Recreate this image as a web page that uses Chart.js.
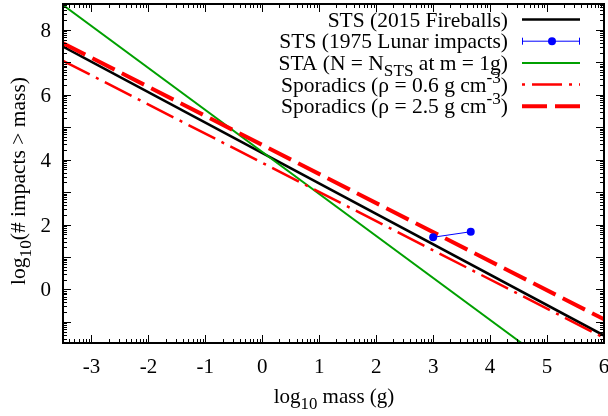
<!DOCTYPE html>
<html>
<head>
<meta charset="utf-8">
<script src="https://cdn.jsdelivr.net/npm/chart.js@4.4.0/dist/chart.umd.min.js"></script>
<style>
  html, body { margin: 0; padding: 0; background: #fff; }
  #wrap { width: 608px; height: 416px; }
</style>
</head>
<body>
<div id="wrap"><canvas id="chart" width="608" height="416"></canvas></div>
<script>
// values: [log10 mass (g), log10(# impacts > mass)]
const stsFireballs = [[-3.5, 7.49], [6, -1.42]];
const stsLunar = [[3.0, 1.61], [3.66, 1.78]];
const staLine = [[-3.5, 8.77], [4.55, -1.65]];
const sporadicsLow = [[-3.5, 7.05], [6, -1.49]];
const sporadicsHigh = [[-3.5, 7.59], [6, -0.92]];

// axes
const xRange = [-3.5, 6];
const yRange = [-1.65, 8.8];
const xTickLabels = [-3, -2, -1, 0, 1, 2, 3, 4, 5, 6];
const yTickLabels = [0, 2, 4, 6, 8];

const FONT = '"Liberation Serif", "Times New Roman", serif';
const FS = 21;
const LEGEND_FS = 21.5;

const toXY = arr => arr.map(p => ({ x: p[0], y: p[1] }));

// text with sub/superscripts: segs = [[text, 'sub'|'sup'|undefined], ...]
function richWidth(ctx, segs, size) {
  let w = 0;
  segs.forEach(s => {
    ctx.font = (s[1] ? size * 0.8 : size) + 'px ' + FONT;
    w += ctx.measureText(s[0]).width;
  });
  return w;
}
function drawRich(ctx, segs, x, y, align, size) {
  const w = richWidth(ctx, segs, size);
  let cx = align === 'right' ? x - w : align === 'center' ? x - w / 2 : x;
  ctx.textAlign = 'left';
  ctx.textBaseline = 'alphabetic';
  segs.forEach(s => {
    let dy = 0;
    if (s[1] === 'sub') dy = size * 0.3;
    if (s[1] === 'sup') dy = -size * 0.42;
    ctx.font = (s[1] ? size * 0.8 : size) + 'px ' + FONT;
    ctx.fillText(s[0], cx, y + dy);
    cx += ctx.measureText(s[0]).width;
  });
}

const legendRows = [
  { segs: [['STS (2015 Fireballs)']], color: '#000000', width: 2.5, dash: [] },
  { segs: [['STS (1975 Lunar impacts)']], color: '#0000ff', width: 1, dash: [], marker: true },
  { segs: [['STA (N = N'], ['STS', 'sub'], [' at m = 1g)']], color: '#00a000', width: 2, dash: [] },
  { segs: [['Sporadics (\u03c1 = 0.6 g cm'], ['-3', 'sup'], [')']], color: '#ff0000', width: 2.5, dash: [3, 7, 30, 7] },
  { segs: [['Sporadics (\u03c1 = 2.5 g cm'], ['-3', 'sup'], [')']], color: '#ff0000', width: 4, dash: [25, 8] }
];

const framePlugin = {
  id: 'frame',
  afterDraw(chart) {
    const ctx = chart.ctx;
    const a = chart.chartArea;
    const xs = chart.scales.x, ys = chart.scales.y;
    ctx.save();
    ctx.strokeStyle = '#000';
    ctx.fillStyle = '#000';

    // tick marks, major at integers, minor at log spacing (mirrored on all sides)
    ctx.lineWidth = 1;
    ctx.beginPath();
    for (let n = Math.floor(xRange[0]); n <= xRange[1]; n++) {
      for (let k = 1; k <= 9; k++) {
        const v = n + Math.log10(k);
        if (v < xRange[0] || v > xRange[1]) continue;
        const len = k === 1 ? 8 : 4;
        const px = Math.round(xs.getPixelForValue(v)) + 0.5;
        ctx.moveTo(px, a.bottom); ctx.lineTo(px, a.bottom - len);
        ctx.moveTo(px, a.top); ctx.lineTo(px, a.top + len);
      }
    }
    for (let n = Math.floor(yRange[0]); n <= yRange[1]; n++) {
      for (let k = 1; k <= 9; k++) {
        const v = n + Math.log10(k);
        if (v < yRange[0] || v > yRange[1]) continue;
        const len = k === 1 ? 8 : 4;
        const py = Math.round(ys.getPixelForValue(v)) + 0.5;
        ctx.moveTo(a.left, py); ctx.lineTo(a.left + len, py);
        ctx.moveTo(a.right, py); ctx.lineTo(a.right - len, py);
      }
    }
    ctx.stroke();

    // border
    ctx.lineWidth = 2;
    ctx.strokeRect(a.left, a.top, a.right - a.left, a.bottom - a.top);

    // tick labels
    ctx.font = FS + 'px ' + FONT;
    ctx.textBaseline = 'alphabetic';
    ctx.textAlign = 'center';
    xTickLabels.forEach(v => {
      ctx.fillText(String(v), xs.getPixelForValue(v), 373);
    });
    ctx.textAlign = 'right';
    yTickLabels.forEach(v => {
      ctx.fillText(String(v), 51, ys.getPixelForValue(v) + 7);
    });

    // axis titles
    drawRich(ctx, [['log'], ['10', 'sub'], [' mass (g)']], 334, 403, 'center', FS);
    ctx.save();
    ctx.translate(25, 181);
    ctx.rotate(-Math.PI / 2);
    drawRich(ctx, [['log'], ['10', 'sub'], ['(# impacts > mass)']], 0, 0, 'center', FS + 0.5);
    ctx.restore();

    // legend
    legendRows.forEach((row, i) => {
      const y = 19.5 + i * 21.7;
      ctx.fillStyle = '#000';
      drawRich(ctx, row.segs, 508, y + 7, 'right', LEGEND_FS);
      ctx.strokeStyle = row.color;
      ctx.lineWidth = row.width;
      ctx.setLineDash(row.dash);
      ctx.beginPath();
      ctx.moveTo(522, y); ctx.lineTo(580, y);
      ctx.stroke();
      ctx.setLineDash([]);
      if (row.marker) {
        ctx.beginPath();
        ctx.moveTo(522.5, y - 3.5); ctx.lineTo(522.5, y + 3.5);
        ctx.moveTo(579.5, y - 3.5); ctx.lineTo(579.5, y + 3.5);
        ctx.stroke();
        ctx.fillStyle = row.color;
        ctx.beginPath();
        ctx.arc(552, y, 4, 0, Math.PI * 2);
        ctx.fill();
      }
    });
    ctx.restore();
  }
};

new Chart(document.getElementById('chart'), {
  type: 'scatter',
  data: {
    datasets: [
      {
        label: 'STS (1975 Lunar impacts)',
        data: toXY(stsLunar),
        showLine: true,
        borderColor: '#0000ff',
        backgroundColor: '#0000ff',
        borderWidth: 1,
        pointRadius: 4,
        pointBorderWidth: 0,
        order: 0
      },
      {
        label: 'Sporadics (rho = 2.5 g cm-3)',
        data: toXY(sporadicsHigh),
        showLine: true,
        borderColor: '#ff0000',
        borderWidth: 4,
        borderDash: [25, 8],
        pointRadius: 0,
        order: 1
      },
      {
        label: 'Sporadics (rho = 0.6 g cm-3)',
        data: toXY(sporadicsLow),
        showLine: true,
        borderColor: '#ff0000',
        borderWidth: 2.5,
        borderDash: [30, 7, 3, 7],
        pointRadius: 0,
        order: 2
      },
      {
        label: 'STA (N = N_STS at m = 1g)',
        data: toXY(staLine),
        showLine: true,
        borderColor: '#00a000',
        borderWidth: 2,
        pointRadius: 0,
        order: 3
      },
      {
        label: 'STS (2015 Fireballs)',
        data: toXY(stsFireballs),
        showLine: true,
        borderColor: '#000000',
        borderWidth: 2.5,
        pointRadius: 0,
        order: 4
      }
    ]
  },
  options: {
    responsive: false,
    animation: false,
    layout: { padding: { top: 4, right: 2, left: 0, bottom: 0 } },
    plugins: { legend: { display: false }, tooltip: { enabled: false } },
    scales: {
      x: {
        type: 'linear',
        min: xRange[0],
        max: xRange[1],
        grid: { display: false },
        border: { display: false },
        ticks: { display: false },
        afterFit: s => { s.height = 73; }
      },
      y: {
        type: 'linear',
        min: yRange[0],
        max: yRange[1],
        grid: { display: false },
        border: { display: false },
        ticks: { display: false },
        afterFit: s => { s.width = 63; }
      }
    }
  },
  plugins: [framePlugin]
});
</script>
</body>
</html>
